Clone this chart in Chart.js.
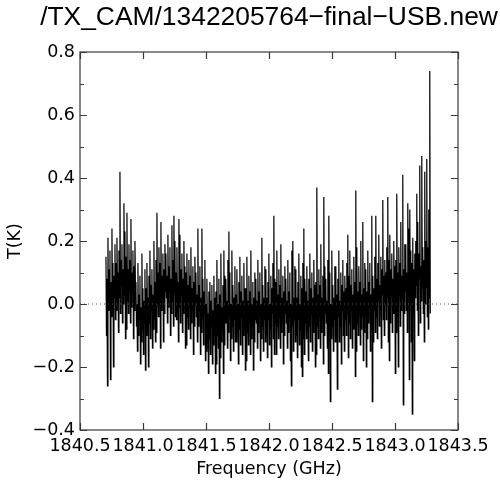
<!DOCTYPE html>
<html>
<head>
<meta charset="utf-8">
<style>
  html, body { margin: 0; padding: 0; background: #fff; }
  #wrap { width: 500px; height: 485px; }
</style>
<script src="https://cdn.jsdelivr.net/npm/chart.js@4.4.1/dist/chart.umd.min.js"></script>
</head>
<body>
<div id="wrap"><canvas id="grafico" width="500" height="485"></canvas></div>
<script>
'use strict';

const TITLE = '/TX_CAM/1342205764\u2212final\u2212USB.new';

// channel grid (GHz)
const F0 = 1840.706;
const DF = 0.003966;

// antenna temperature per channel (K), 20 channels per row
const tk = [
  0.15, -0.10, 0.08, -0.26, 0.21, -0.02, 0.11, 0.03, 0.17, -0.24, 0.07, -0.04, 0.24, 0.00, 0.13, -0.20, 0.09, 0.02, 0.19, -0.05,
  0.13, -0.02, 0.21, 0.05, 0.10, -0.09, 0.17, 0.02, 0.42, -0.03, 0.14, 0.06, 0.19, -0.06, 0.11, 0.00, 0.32, 0.03, 0.23, -0.11,
  0.15, -0.08, 0.29, 0.01, 0.11, -0.03, 0.19, 0.04, 0.14, -0.06, 0.27, -0.01, 0.10, 0.03, 0.17, -0.11, 0.12, -0.02, 0.20, 0.05,
  0.07, -0.07, 0.00, -0.15, 0.13, -0.10, 0.03, -0.05, 0.09, -0.19, -0.01, -0.12, 0.16, -0.08, 0.05, -0.16, 0.01, -0.06, 0.11, -0.21,
  0.05, -0.10, 0.13, -0.03, 0.02, -0.20, 0.09, -0.06, 0.17, -0.11, 0.06, -0.02, 0.11, -0.14, 0.03, -0.08, 0.20, -0.05, 0.07, -0.12,
  0.14, -0.09, 0.29, 0.00, 0.10, -0.04, 0.18, 0.03, 0.13, -0.14, 0.26, -0.02, 0.09, 0.02, 0.16, -0.12, 0.11, -0.03, 0.19, 0.04,
  0.16, 0.02, 0.09, -0.06, 0.22, -0.01, 0.12, 0.04, 0.18, -0.10, 0.08, -0.03, 0.25, 0.01, 0.14, -0.07, 0.28, 0.03, 0.20, -0.04,
  0.10, -0.05, 0.18, 0.02, 0.07, -0.12, 0.27, -0.01, 0.22, -0.06, 0.11, 0.03, 0.16, -0.09, 0.08, -0.03, 0.20, 0.00, 0.12, -0.14,
  0.10, -0.13, 0.16, -0.04, 0.06, -0.08, 0.14, -0.01, 0.09, -0.11, 0.18, -0.06, 0.05, -0.02, 0.12, -0.16, 0.07, -0.07, 0.15, 0.00,
  0.10, -0.04, 0.03, -0.12, 0.24, -0.07, 0.06, -0.02, 0.12, -0.16, 0.02, -0.09, 0.24, -0.05, 0.08, -0.13, 0.04, -0.03, 0.14, -0.18,
  0.00, -0.15, 0.08, -0.08, -0.03, -0.22, 0.04, -0.11, 0.07, -0.16, 0.01, -0.07, 0.06, -0.19, -0.02, -0.13, 0.09, -0.10, 0.02, -0.22,
  0.04, -0.19, 0.14, -0.10, 0.00, -0.14, 0.08, -0.30, 0.03, -0.17, 0.16, -0.12, -0.01, -0.08, 0.06, -0.22, 0.17, -0.13, 0.09, -0.06,
  0.08, -0.06, 0.01, -0.14, 0.14, -0.09, 0.23, -0.04, 0.10, -0.18, 0.00, -0.11, 0.17, -0.07, 0.06, -0.15, 0.02, -0.05, 0.12, -0.12,
  0.03, -0.12, 0.11, -0.05, 0.00, -0.19, 0.07, -0.08, 0.15, -0.13, 0.04, -0.04, 0.09, -0.16, 0.01, -0.10, 0.13, -0.07, 0.05, -0.21,
  0.05, -0.18, 0.15, -0.09, 0.01, -0.13, 0.09, -0.06, 0.04, -0.16, 0.17, -0.11, 0.00, -0.07, 0.07, -0.21, 0.02, -0.12, 0.10, -0.05,
  0.08, -0.06, 0.01, -0.14, 0.14, -0.09, 0.04, -0.04, 0.10, -0.18, 0.00, -0.11, 0.21, -0.07, 0.06, -0.15, 0.02, -0.05, 0.12, -0.12,
  0.11, -0.10, 0.02, -0.17, 0.07, -0.05, 0.16, -0.13, 0.00, -0.08, 0.09, -0.20, 0.05, -0.03, 0.13, -0.11, 0.28, -0.16, 0.08, -0.06,
  0.07, -0.16, 0.17, -0.07, 0.03, -0.11, 0.11, -0.04, 0.06, -0.14, 0.19, -0.09, 0.02, -0.05, 0.09, -0.19, 0.04, -0.10, 0.12, -0.03,
  0.08, -0.06, 0.01, -0.14, 0.14, -0.09, 0.04, -0.04, 0.10, -0.18, 0.00, -0.26, 0.17, -0.07, 0.20, -0.15, 0.02, -0.05, 0.12, -0.12,
  0.11, -0.10, 0.02, -0.17, 0.07, -0.05, 0.16, -0.13, 0.00, -0.08, 0.09, -0.20, 0.05, -0.23, 0.13, -0.11, 0.24, -0.16, 0.08, -0.06,
  0.04, -0.11, 0.12, -0.04, 0.01, -0.18, 0.08, -0.07, 0.16, -0.12, 0.05, -0.03, 0.10, -0.15, 0.02, -0.09, 0.14, -0.06, 0.06, -0.20,
  0.07, -0.16, 0.37, -0.07, 0.03, -0.11, 0.11, -0.04, 0.06, -0.14, 0.19, -0.09, 0.02, -0.05, 0.09, -0.19, 0.34, -0.10, 0.12, -0.03,
  0.08, -0.06, 0.01, -0.14, 0.14, -0.22, 0.28, -0.04, 0.10, -0.31, 0.00, -0.11, 0.17, -0.07, 0.06, -0.15, 0.02, -0.05, 0.12, -0.12,
  0.12, -0.09, 0.03, -0.27, 0.08, -0.04, 0.17, -0.12, 0.01, -0.07, 0.10, -0.19, 0.06, -0.02, 0.14, -0.10, 0.04, -0.15, 0.09, -0.05,
  0.05, -0.10, 0.13, -0.03, 0.22, -0.17, 0.09, -0.06, 0.17, -0.11, 0.06, -0.02, 0.11, -0.14, 0.03, -0.08, 0.15, -0.05, 0.07, -0.23,
  0.36, -0.15, 0.18, -0.06, 0.04, -0.10, 0.12, -0.03, 0.07, -0.13, 0.20, -0.08, 0.03, -0.04, 0.26, -0.18, 0.05, -0.09, 0.13, -0.02,
  0.11, -0.20, 0.04, -0.11, 0.17, -0.06, 0.07, -0.01, 0.13, -0.15, 0.03, -0.08, 0.28, -0.31, 0.09, -0.12, 0.05, -0.02, 0.15, -0.09,
  0.28, -0.04, 0.08, -0.11, 0.13, 0.01, 0.22, -0.07, 0.06, -0.02, 0.15, -0.14, 0.11, 0.03, 0.33, -0.05, 0.09, -0.10, 0.14, 0.00,
  0.10, -0.05, 0.18, 0.02, 0.34, -0.12, 0.14, -0.18, 0.22, -0.06, 0.11, 0.03, 0.16, -0.09, 0.08, -0.03, 0.20, 0.00, 0.12, -0.22,
  0.14, -0.09, 0.35, 0.00, 0.10, -0.20, 0.18, 0.03, 0.13, -0.07, 0.26, -0.02, 0.09, 0.02, 0.41, -0.32, 0.11, -0.03, 0.19, 0.04,
  0.19, -0.02, 0.10, -0.09, 0.32, 0.03, 0.24, -0.24, 0.30, 0.00, 0.17, -0.12, 0.13, -0.35, 0.21, -0.03, 0.11, -0.18, 0.16, 0.02,
  0.20, 0.06, 0.35, -0.02, 0.26, -0.10, 0.16, 0.08, 0.44, -0.06, 0.12, 0.01, 0.47, 0.05, 0.18, -0.03, 0.14, -0.12, 0.42, 0.00,
  0.20, 0.05, 0.46, -0.04, 0.18, -0.08, 0.30, 0.02, 0.74, -0.03
];

const xTicks = [1840.5, 1841.0, 1841.5, 1842.0, 1842.5, 1843.0, 1843.5];
const yTicks = [-0.4, -0.2, 0.0, 0.2, 0.4, 0.6, 0.8];
const yMinor = [-0.3, -0.1, 0.1, 0.3, 0.5, 0.7];

const AXIS_COLOR = '#3a3a3a';
const TICK_FONT = { family: "'DejaVu Sans', sans-serif", size: 17.5 };

function fmt(v) {
  const s = Math.abs(v).toFixed(1);
  return (v < -1e-9 ? '\u2212' : '') + s;
}

// box, inward ticks on all four sides, and the title
const framePlugin = {
  id: 'frame',
  afterDraw(chart) {
    const { ctx, chartArea: a, scales } = chart;
    ctx.save();
    ctx.strokeStyle = AXIS_COLOR;
    ctx.lineWidth = 1.2;
    ctx.strokeRect(a.left, a.top, a.right - a.left, a.bottom - a.top);

    ctx.beginPath();
    xTicks.forEach(v => {
      const px = Math.round(scales.x.getPixelForValue(v)) + 0.5;
      ctx.moveTo(px, a.bottom); ctx.lineTo(px, a.bottom - 7);
      ctx.moveTo(px, a.top); ctx.lineTo(px, a.top + 7);
    });
    yTicks.forEach(v => {
      const py = Math.round(scales.y.getPixelForValue(v)) + 0.5;
      ctx.moveTo(a.left, py); ctx.lineTo(a.left + 7, py);
      ctx.moveTo(a.right, py); ctx.lineTo(a.right - 7, py);
    });
    yMinor.forEach(v => {
      const py = Math.round(scales.y.getPixelForValue(v)) + 0.5;
      ctx.moveTo(a.left, py); ctx.lineTo(a.left + 4, py);
      ctx.moveTo(a.right, py); ctx.lineTo(a.right - 4, py);
    });
    ctx.stroke();

    ctx.fillStyle = '#000';
    ctx.font = "26.4px 'Liberation Sans', Arial, sans-serif";
    ctx.textAlign = 'center';
    ctx.textBaseline = 'alphabetic';
    ctx.fillText(TITLE, (a.left + a.right) / 2, 25);
    ctx.restore();
  }
};

const spectrum = tk.map((t, i) => ({ x: F0 + i * DF, y: t }));
const zeroLine = [{ x: xTicks[0], y: 0 }, { x: xTicks[xTicks.length - 1], y: 0 }];

new Chart(document.getElementById('grafico').getContext('2d'), {
  type: 'line',
  data: {
    datasets: [
      {
        data: zeroLine,
        borderColor: '#555',
        borderWidth: 1,
        borderDash: [1, 3],
        pointRadius: 0
      },
      {
        data: spectrum,
        borderColor: '#000',
        borderWidth: 1.2,
        pointRadius: 0,
        tension: 0
      }
    ]
  },
  options: {
    responsive: false,
    animation: false,
    events: [],
    layout: { padding: { top: 52, right: 42, left: 0, bottom: 0 } },
    plugins: { legend: { display: false }, tooltip: { enabled: false }, title: { display: false } },
    scales: {
      x: {
        type: 'linear',
        min: xTicks[0],
        max: xTicks[xTicks.length - 1],
        afterBuildTicks: s => { s.ticks = xTicks.map(v => ({ value: v })); },
        afterFit: s => { s.height = 55; },
        grid: { display: false, drawTicks: false },
        border: { display: false },
        ticks: {
          color: '#000', font: TICK_FONT, padding: 6, maxRotation: 0, autoSkip: false,
          callback: v => v.toFixed(1)
        },
        title: {
          display: true, text: 'Frequency (GHz)', color: '#000',
          font: TICK_FONT, padding: { top: 0, bottom: 5 }
        }
      },
      y: {
        type: 'linear',
        min: yTicks[0],
        max: yTicks[yTicks.length - 1],
        afterBuildTicks: s => { s.ticks = yTicks.map(v => ({ value: v })); },
        afterFit: s => { s.width = 80; },
        grid: { display: false, drawTicks: false },
        border: { display: false },
        ticks: {
          color: '#000', font: TICK_FONT, padding: 5, autoSkip: false,
          callback: v => fmt(v)
        },
        title: {
          display: true, text: 'T(K)', color: '#000',
          font: TICK_FONT, padding: { top: 5, bottom: 0 }
        }
      }
    }
  },
  plugins: [framePlugin]
});
</script>
</body>
</html>
